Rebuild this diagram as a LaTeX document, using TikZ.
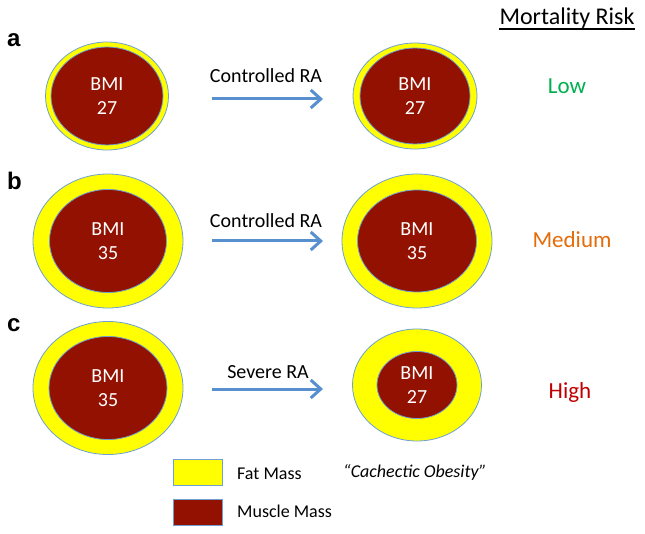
\documentclass[tikz,border=0pt]{standalone}
\usepackage{fontspec}
\setmainfont{Carlito}
\newfontfamily\arialfont{Liberation Sans}
\usetikzlibrary{shapes.geometric,arrows.meta}
\definecolor{fatY}{RGB}{255,255,0}
\definecolor{muscleR}{RGB}{146,17,0}
\definecolor{rimB}{RGB}{110,160,210}
\definecolor{arrowB}{RGB}{88,143,206}
\definecolor{lowG}{RGB}{0,176,80}
\definecolor{medO}{RGB}{228,108,10}
\definecolor{highR}{RGB}{192,0,0}
\begin{document}
\begin{tikzpicture}[x=1pt,y=-1pt,
  fat/.style={ellipse, fill=fatY, draw=rimB, line width=0.8pt, inner sep=0pt},
  muscle/.style={ellipse, fill=muscleR, draw=rimB, line width=0.8pt, inner sep=0pt,
    text=white, align=center, font=\fontsize{20}{24}\selectfont},
  flow/.style={draw=arrowB, line width=3pt, -{Straight Barb[length=10pt,width=18pt]}},
  flowlabel/.style={anchor=base, inner sep=0pt, font=\fontsize{20}{24}\selectfont},
  panel/.style={anchor=base west, inner sep=0pt, font=\fontsize{24}{28}\arialfont\bfseries},
  risk/.style={anchor=base, inner sep=0pt, font=\fontsize{23}{28}\selectfont},
  legbox/.style={rectangle, draw=rimB, line width=0.8pt, minimum width=49pt, minimum height=26pt, inner sep=0pt},
  legtext/.style={anchor=base west, inner sep=0pt, font=\fontsize{18}{22}\selectfont}
]
\useasboundingbox (0,0) rectangle (645,534);
\fill[white] (0,0) rectangle (645,534);

% header
\node[risk, font=\fontsize{24}{28}\selectfont] (mr) at (567,25) {Mortality Risk};
\draw[line width=1.3pt] ([yshift=-4pt]mr.base west) -- ([yshift=-4pt]mr.base east);

% panel labels
\node[panel] (la) at (7,47) {a};
\node[panel] (lb) at (7,190) {b};
\node[panel] (lc) at (7,332) {c};

% row a
\node[fat, minimum width=123pt, minimum height=108pt] (aLo) at (107,96) {};
\node[muscle, minimum width=112pt, minimum height=98pt] (aLi) at (107,96) {BMI\\27};
\node[fat, minimum width=124pt, minimum height=106pt] (aRo) at (415,96) {};
\node[muscle, minimum width=110pt, minimum height=96pt] (aRi) at (415,96) {BMI\\27};
\node[flowlabel] (ta) at (266,83) {Controlled RA};
\coordinate (aS) at (212,99);
\coordinate (aE) at (323,99);
\draw[flow] (aS) -- (aE);
\node[risk, text=lowG] (low) at (567,94) {Low};

% row b
\node[fat, minimum width=150pt, minimum height=134pt] (bLo) at (108,241) {};
\node[muscle, minimum width=117pt, minimum height=103pt] (bLi) at (108,241) {BMI\\35};
\node[fat, minimum width=150pt, minimum height=134pt] (bRo) at (417,241) {};
\node[muscle, minimum width=119pt, minimum height=102pt] (bRi) at (417,241) {BMI\\35};
\node[flowlabel] (tb) at (266,228) {Controlled RA};
\coordinate (bS) at (212,241);
\coordinate (bE) at (323,241);
\draw[flow] (bS) -- (bE);
\node[risk, text=medO] (med) at (572,248) {Medium};

% row c
\node[fat, minimum width=150pt, minimum height=133pt] (cLo) at (108,388) {};
\node[muscle, minimum width=118pt, minimum height=103pt] (cLi) at (108,388) {BMI\\35};
\node[fat, minimum width=129pt, minimum height=112pt] (cRo) at (417,385) {};
\node[muscle, minimum width=80pt, minimum height=67pt] (cRi) at (417,385) {BMI\\27};
\node[flowlabel] (tc) at (268,378) {Severe RA};
\coordinate (cS) at (212,389);
\coordinate (cE) at (323,389);
\draw[flow] (cS) -- (cE);
\node[risk, text=highR] (high) at (570,398) {High};

% legend
\node[legbox, fill=fatY] (fatbox) at (197.5,472) {};
\node[legtext] (fattext) at (237,479) {Fat Mass};
\node[legbox, fill=muscleR] (musbox) at (197.5,512) {};
\node[legtext] (mustext) at (237,517) {Muscle Mass};
\node[anchor=base, inner sep=0pt, font=\fontsize{18}{22}\selectfont\itshape] (cach) at (415,477) {“Cachectic Obesity”};
\end{tikzpicture}
\end{document}
